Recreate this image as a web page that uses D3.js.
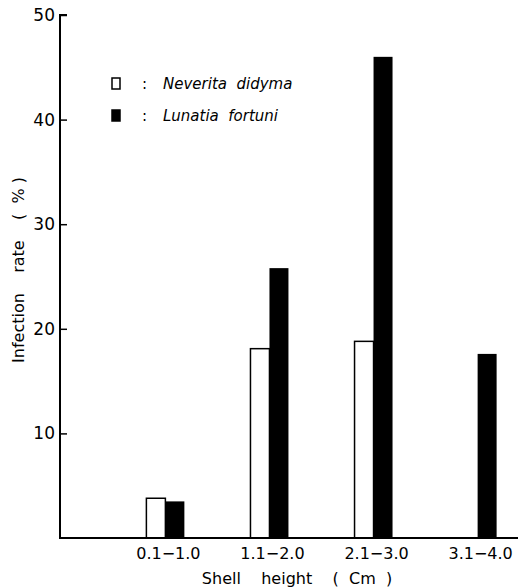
<!DOCTYPE html>
<meta charset="utf-8">
<style>
body { margin: 0; background: white; }
text { font-family: "DejaVu Sans", sans-serif; fill: black; }
</style>
<body>
<script src="https://d3js.org/d3.v7.min.js"></script>
<script>
var width = 526,
    height = 588;

// data
var categories = ["0.1\u22121.0", "1.1\u22122.0", "2.1\u22123.0", "3.1\u22124.0"];
var neverita = [3.8, 18.1, 18.8, null];
var lunatia = [3.5, 25.8, 46.0, 17.6];
var yTicks = [10, 20, 30, 40, 50];

var svg = d3.select("body").append("svg")
    .attr("width", width)
    .attr("height", height);

var y = d3.scaleLinear()
    .domain([0, 50])
    .range([538, 15]);

var x = d3.scaleBand()
    .domain(categories)
    .range([60, 583])
    .paddingInner(0.635)
    .paddingOuter(0.83);

var x1 = d3.scaleBand()
    .domain(["n", "l"])
    .range([0, x.bandwidth()]);

// bars
var g = svg.append("g");

categories.forEach(function(c, i) {
  if (neverita[i] != null) {
    g.append("rect")
      .attr("x", x(c) + x1("n"))
      .attr("y", y(neverita[i]))
      .attr("width", x1.bandwidth())
      .attr("height", y(0) - y(neverita[i]))
      .attr("fill", "white")
      .attr("stroke", "black")
      .attr("stroke-width", 1.5);
  }
  g.append("rect")
    .attr("x", x(c) + x1("l"))
    .attr("y", y(lunatia[i]))
    .attr("width", x1.bandwidth())
    .attr("height", y(0) - y(lunatia[i]))
    .attr("fill", "black");
});

// y axis
var yAxis = svg.append("g")
    .attr("transform", "translate(60,0)")
    .call(d3.axisLeft(y).tickValues(yTicks).tickSize(-7).tickPadding(14));
yAxis.select(".domain").attr("d", "M7," + y(50) + "H0V" + y(0)).attr("stroke-width", 2);
yAxis.selectAll(".tick line").attr("stroke-width", 1.5);
yAxis.selectAll(".tick text")
    .style("font-size", "17px")
    .attr("x", -5);

// x axis baseline
svg.append("line")
    .attr("x1", 59).attr("x2", 518)
    .attr("y1", y(0)).attr("y2", y(0))
    .attr("stroke", "black")
    .attr("stroke-width", 2);

svg.selectAll(".xlab")
  .data(categories)
  .enter().append("text")
    .attr("class", "xlab")
    .attr("x", function(d) { return x(d) + x.bandwidth() / 2 + 3; })
    .attr("y", 559)
    .attr("text-anchor", "middle")
    .style("font-size", "16px")
    .text(function(d) { return d; });

svg.append("text")
    .attr("x", 297)
    .attr("y", 584)
    .attr("text-anchor", "middle")
    .style("font-size", "16px")
    .style("white-space", "pre")
    .text("Shell    height    (  Cm  )");

svg.append("text")
    .attr("transform", "translate(24,270) rotate(-90)")
    .attr("text-anchor", "middle")
    .style("font-size", "16px")
    .style("white-space", "pre")
    .text("Infection    rate    (  % )");

// legend
var legend = [
  {name: "Neverita  didyma", fill: "white", y: 84},
  {name: "Lunatia  fortuni", fill: "black", y: 116}
];
legend.forEach(function(d) {
  svg.append("rect")
    .attr("x", 112).attr("y", d.y - 6)
    .attr("width", 8).attr("height", 11)
    .attr("fill", d.fill)
    .attr("stroke", "black")
    .attr("stroke-width", 1.5);
  svg.append("text")
    .attr("x", 142).attr("y", d.y + 5)
    .style("font-size", "15px")
    .text(":");
  svg.append("text")
    .attr("x", 163).attr("y", d.y + 5)
    .style("font-size", "15px")
    .style("font-style", "italic")
    .style("white-space", "pre")
    .text(d.name);
});
</script>
</body>
